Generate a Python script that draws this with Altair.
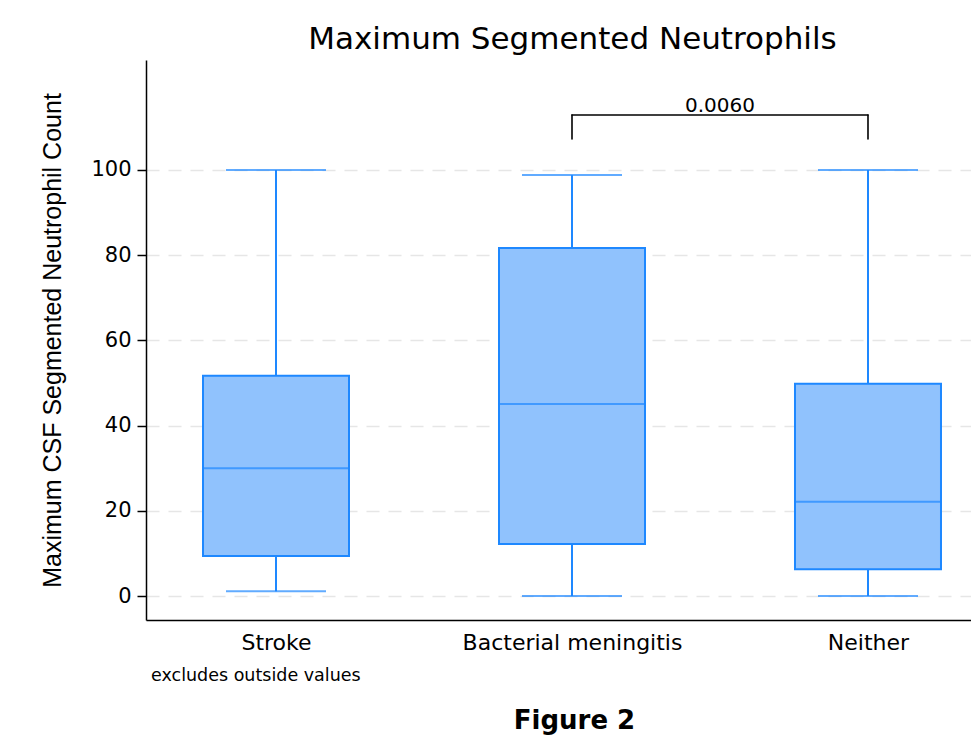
import json
import altair as alt
import pandas as pd

# ---- data ----
categories = ["Stroke", "Bacterial meningitis", "Neither"]
whisker_low = [1.1, 0.0, 0.0]
q1 = [9.4, 12.2, 6.3]
median = [30.0, 45.1, 22.1]
q3 = [51.7, 81.7, 49.8]
whisker_high = [100.0, 98.8, 100.0]

bracket_pair = ["Bacterial meningitis", "Neither"]
bracket_low = 107.3
bracket_high = 112.9
p_value_label = "0.0060"

y_ticks = [0, 20, 40, 60, 80, 100]
note_text = "excludes outside values"

# ---- tables ----
pos = {c: i + 1 for i, c in enumerate(categories)}
box_df = pd.DataFrame({
    "cat": categories,
    "pos": [pos[c] for c in categories],
    "lo": whisker_low, "q1": q1, "med": median, "q3": q3, "hi": whisker_high,
})
br_df = pd.DataFrame({"pos": [pos[c] for c in bracket_pair],
                      "lo": [bracket_low] * 2, "hi": [bracket_high] * 2})
br_top = pd.DataFrame({"x1": [pos[bracket_pair[0]]], "x2": [pos[bracket_pair[1]]],
                       "y": [bracket_high], "xm": [(pos[bracket_pair[0]] + pos[bracket_pair[1]]) / 2],
                       "label": [p_value_label]})
note_df = pd.DataFrame({"t": [note_text]})

STROKE = "#1e88ff"
FILL = "#90c2fd"
HFONT = "DejaVu Sans"

xscale = alt.Scale(domain=[0.5608, 3.348], nice=False, zero=False, padding=0)
yscale = alt.Scale(domain=[-5.63, 125.82], nice=False, zero=False, padding=0)

label_expr = json.dumps(categories) + "[datum.value - 1]"

x_axis = alt.Axis(values=[1, 2, 3], labelExpr=label_expr, ticks=False, grid=False,
                  domainColor="black", domainWidth=1.5, labelFont=HFONT, labelFontSize=22,
                  labelColor="black", labelPadding=12, labelBaseline="top", labelLimit=0,
                  title="Figure 2", titleFont=HFONT, titleFontSize=26, titleFontWeight="bold",
                  titleColor="black", titleX=428, titleY=108, titleBaseline="alphabetic",
                  titleAlign="center")
y_axis = alt.Axis(values=y_ticks, grid=True, gridDash=[13, 9], gridColor="#e6e6e6",
                  gridWidth=1.5, domainColor="black", domainWidth=1.5, tickColor="black",
                  tickSize=9, tickWidth=1.5, labelFont=HFONT, labelFontSize=21,
                  labelColor="black", labelPadding=6,
                  title="Maximum CSF Segmented Neutrophil Count", titleFont="Liberation Sans",
                  titleFontSize=25, titleFontWeight="normal", titleColor="black",
                  titlePadding=25)

base = alt.Chart(box_df)

boxes = base.mark_bar(size=146, fill=FILL, stroke=STROKE, strokeWidth=2).encode(
    x=alt.X("pos:Q", scale=xscale, axis=x_axis),
    y=alt.Y("q1:Q", scale=yscale, axis=y_axis),
    y2="q3:Q",
)
med = base.mark_tick(orient="horizontal", size=146, thickness=2, color=STROKE).encode(
    x="pos:Q", y="med:Q")
w_low = base.mark_rule(color=STROKE, strokeWidth=2).encode(x="pos:Q", y="lo:Q", y2="q1:Q")
w_high = base.mark_rule(color=STROKE, strokeWidth=2).encode(x="pos:Q", y="q3:Q", y2="hi:Q")
cap_low = base.mark_tick(orient="horizontal", size=100, thickness=2, color=STROKE).encode(
    x="pos:Q", y="lo:Q")
cap_high = base.mark_tick(orient="horizontal", size=100, thickness=2, color=STROKE).encode(
    x="pos:Q", y="hi:Q")

legs = alt.Chart(br_df).mark_rule(color="black", strokeWidth=1.6, strokeCap="round").encode(
    x="pos:Q", y="lo:Q", y2="hi:Q")
top = alt.Chart(br_top).mark_rule(color="black", strokeWidth=1.6, strokeCap="round").encode(
    x="x1:Q", x2="x2:Q", y="y:Q")
plabel = alt.Chart(br_top).mark_text(font=HFONT, fontSize=20, color="black",
                                     baseline="alphabetic", dy=-3).encode(
    x="xm:Q", y="y:Q", text="label:N")

note = alt.Chart(note_df).mark_text(font=HFONT, fontSize=17.5, color="black", align="left",
                                    baseline="alphabetic").encode(
    x=alt.value(5), y=alt.value(621), text="t:N")

chart = alt.layer(boxes, w_low, w_high, cap_low, cap_high, med, legs, top, plabel, note).properties(
    width=825, height=560,
    background="white",
    title=alt.TitleParams("Maximum Segmented Neutrophils", font=HFONT, fontSize=31,
                          fontWeight="normal", color="black", anchor="middle", dx=14,
                          offset=10, dy=30, baseline="alphabetic"),
    autosize=alt.AutoSizeParams(type="none"),
    padding={"left": 146, "top": 60, "right": 0, "bottom": 120},
).configure_view(stroke=None)

chart.save("out.html", embed_options={"renderer": "svg", "actions": False})
